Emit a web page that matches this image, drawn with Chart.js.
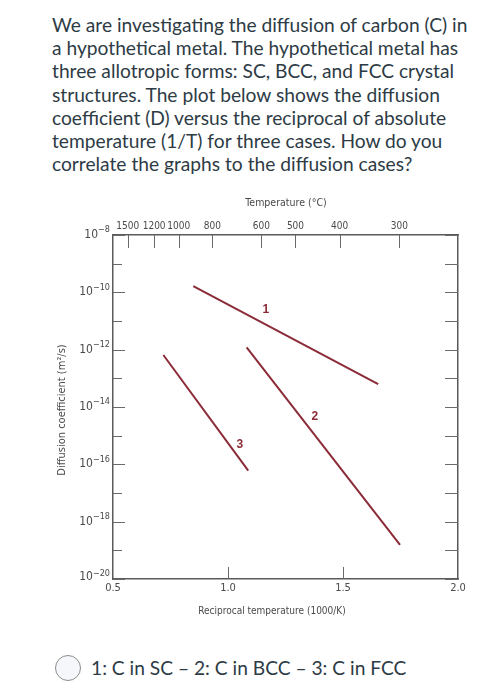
<!DOCTYPE html>
<html>
<head>
<meta charset="utf-8">
<script src="https://cdn.jsdelivr.net/npm/chart.js@4"></script>
<style>
  html, body { margin: 0; padding: 0; background: #fff; }
  body { width: 500px; height: 700px; position: relative; overflow: hidden; }
  .question {
    position: absolute; left: 52px; top: 13px;
    font-family: Lato, "Open Sans", sans-serif; font-size: 19.2px; line-height: 23.2px;
    color: #2d3b45; white-space: nowrap;
  }
  .plot { position: absolute; left: 0; top: 190px; width: 500px; height: 435px; }
  .answer { position: absolute; left: 55px; top: 655px; height: 28px; }
  .radio {
    position: absolute; left: 0; top: 0; width: 24px; height: 24px;
    border: 1.5px solid #8d8d8d; border-radius: 50%; background: #f5f7fa;
  }
  .answer span {
    position: absolute; left: 36px; top: 1px; white-space: nowrap;
    font-family: Lato, "Open Sans", sans-serif; font-size: 19.2px; color: #2d3b45;
  }
</style>
</head>
<body>
<div class="question">
  We are investigating the diffusion of carbon (C) in<br>
  a hypothetical metal. The hypothetical metal has<br>
  three allotropic forms: SC, BCC, and FCC crystal<br>
  structures. The plot below shows the diffusion<br>
  coefficient (D) versus the reciprocal of absolute<br>
  temperature (1/T) for three cases. How do you<br>
  correlate the graphs to the diffusion cases?
</div>
<div class="plot"><canvas id="chart" width="500" height="435"></canvas></div>
<div class="answer"><div class="radio"></div><span>1: C in SC – 2: C in BCC – 3: C in FCC</span></div>
<script>
// reciprocal temperature (1000/K) and diffusion coefficient (m^2/s) at line ends
const line1X = [0.849, 1.653]
const line1D = [1.66e-10, 6.3e-14]
const line2X = [1.081, 1.748]
const line2D = [1.2e-12, 1.55e-19]
const line3X = [0.719, 1.088]
const line3D = [6.5e-13, 6.0e-17]

// where the numbers 1, 2, 3 sit on the plot
const curveNames = ['1', '2', '3']
const nameX = [1.165, 1.378, 1.052]
const nameD = [2.4e-11, 4.5e-15, 4.7e-16]

const xTicks = [0.5, 1.0, 1.5, 2.0]
const tempTicksC = [1500, 1200, 1000, 800, 600, 500, 400, 300]
const yExponents = [-8, -9, -10, -11, -12, -13, -14, -15, -16, -17, -18, -19, -20]
const yLabelExponents = [-8, -10, -12, -14, -16, -18, -20]

const lineColor = '#8b2b38'
const axisColor = '#5a5a5a'
const textColor = '#4a4a4a'
const narrow = '"Liberation Sans Narrow", "DejaVu Sans Condensed", Arial, sans-serif'

const toPoints = (xs, ys) => xs.map((x, i) => ({ x, y: ys[i] }))
const recip = c => 1000 / (c + 273.15)

const overlay = {
  id: 'overlay',
  afterDraw(chart) {
    const { ctx, chartArea: a, scales } = chart
    ctx.save()
    ctx.strokeStyle = '#6a6a6a'
    ctx.lineWidth = 1

    // inward ticks on all four sides
    yExponents.forEach(e => {
      const py = Math.round(scales.y.getPixelForValue(Math.pow(10, e))) + 0.5
      const major = e % 2 === 0
      ctx.beginPath()
      ctx.moveTo(a.left, py); ctx.lineTo(a.left + (major ? 12 : 9), py)
      ctx.moveTo(a.right, py); ctx.lineTo(a.right - 13, py)
      ctx.stroke()
    })
    tempTicksC.forEach(c => {
      const px = Math.round(scales.x2.getPixelForValue(recip(c))) + 0.5
      ctx.beginPath(); ctx.moveTo(px, a.top); ctx.lineTo(px, a.top + 13); ctx.stroke()
    })
    ;[1.0, 1.5].forEach(v => {
      const px = Math.round(scales.x.getPixelForValue(v)) + 0.5
      ctx.beginPath(); ctx.moveTo(px, a.bottom); ctx.lineTo(px, a.bottom - 12); ctx.stroke()
    })

    // y tick labels with superscript exponents
    ctx.fillStyle = textColor
    ctx.textBaseline = 'middle'
    yLabelExponents.forEach(e => {
      const py = scales.y.getPixelForValue(Math.pow(10, e))
      const exp = '−' + Math.abs(e)
      ctx.font = '9px ' + narrow
      const ew = ctx.measureText(exp).width
      ctx.textAlign = 'right'
      ctx.fillText(exp, a.left - 3, py - 5)
      ctx.font = '12px ' + narrow
      ctx.fillText('10', a.left - 3 - ew, py + (e === -20 ? -2 : 0))
    })

    // axis titles
    ctx.textAlign = 'center'
    ctx.font = '10.5px ' + narrow
    ctx.fillText('Temperature (°C)', 286, 13)
    ctx.font = '10px ' + narrow
    ctx.fillText('Reciprocal temperature (1000/K)', 272, 421)
    ctx.font = '11px ' + narrow
    ctx.translate(62, 220)
    ctx.rotate(-Math.PI / 2)
    ctx.fillText('Diffusion coefficient (m²/s)', 0, 0)
    ctx.restore()

    // curve numbers
    ctx.save()
    ctx.fillStyle = lineColor
    ctx.font = 'bold 12px "Liberation Sans", Arial, sans-serif'
    ctx.textAlign = 'center'
    ctx.textBaseline = 'middle'
    curveNames.forEach((n, i) => {
      ctx.fillText(n, scales.x.getPixelForValue(nameX[i]), scales.y.getPixelForValue(nameD[i]))
    })
    ctx.restore()
  }
}

const border = { display: true, color: axisColor, width: 1.5 }
const noGrid = { display: false, drawTicks: false }

new Chart(document.getElementById('chart'), {
  type: 'line',
  data: {
    datasets: [
      { label: '1', data: toPoints(line1X, line1D) },
      { label: '2', data: toPoints(line2X, line2D) },
      { label: '3', data: toPoints(line3X, line3D) }
    ].map(d => ({ ...d, borderColor: lineColor, borderWidth: 2, pointRadius: 0, tension: 0, fill: false }))
  },
  options: {
    responsive: false,
    animation: false,
    layout: { padding: 0 },
    plugins: { legend: { display: false }, tooltip: { enabled: false } },
    scales: {
      x: {
        type: 'linear', position: 'bottom', min: 0.5, max: 2.0,
        grid: noGrid, border,
        afterBuildTicks: s => { s.ticks = xTicks.map(value => ({ value })) },
        afterFit: s => { s.height = 46 },
        ticks: {
          padding: 3, autoSkip: false, maxRotation: 0, color: textColor,
          font: { family: narrow, size: 11 },
          callback: v => Number(v).toFixed(1)
        }
      },
      x2: {
        type: 'linear', position: 'top', min: 0.5, max: 2.0,
        grid: noGrid, border,
        afterBuildTicks: s => { s.ticks = tempTicksC.map(c => ({ value: recip(c), label: String(c) })) },
        afterFit: s => { s.height = 45 },
        ticks: {
          padding: 3, autoSkip: false, maxRotation: 0, color: textColor,
          font: { family: narrow, size: 10 },
          callback: (v, i) => String(tempTicksC[i])
        }
      },
      y: {
        type: 'logarithmic', position: 'left', min: 1e-20, max: 1e-8,
        grid: noGrid, border,
        ticks: { display: false },
        afterFit: s => { s.width = 113 }
      },
      y2: {
        type: 'logarithmic', position: 'right', min: 1e-20, max: 1e-8,
        grid: noGrid, border,
        ticks: { display: false },
        afterFit: s => { s.width = 42 }
      }
    }
  },
  plugins: [overlay]
})
</script>
</body>
</html>
